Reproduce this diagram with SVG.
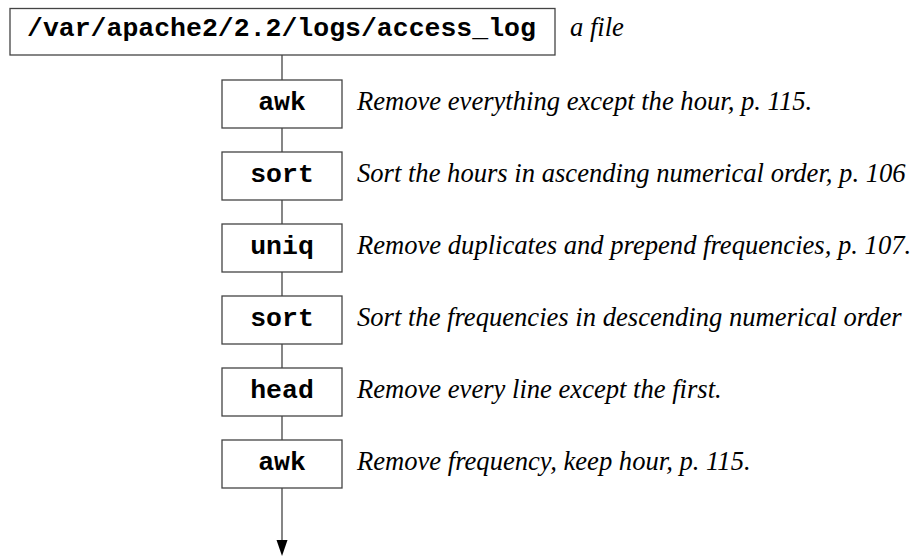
<svg xmlns="http://www.w3.org/2000/svg" width="924" height="559" viewBox="0 0 924 559">
  <style>
    .box { fill: #fff; stroke: #444; stroke-width: 1.3; }
    .cmd { font-family: "Liberation Mono", "Courier New", monospace; font-weight: bold; font-size: 26.5px; fill: #000; text-anchor: middle; }
    .path { font-family: "Liberation Mono", "Courier New", monospace; font-weight: bold; font-size: 26.5px; fill: #000; }
    .note { font-family: "Liberation Serif", "Times New Roman", serif; font-style: italic; font-size: 26.6px; fill: #000; }
    .pipe { stroke: #444; stroke-width: 1.3; fill: none; }
  </style>
  <rect width="924" height="559" fill="#fff"/>

  <!-- connectors between pipeline stages -->
  <g id="connectors">
    <line class="pipe" x1="282" y1="55" x2="282" y2="80"/>
    <line class="pipe" x1="282" y1="128" x2="282" y2="152"/>
    <line class="pipe" x1="282" y1="200" x2="282" y2="224"/>
    <line class="pipe" x1="282" y1="272" x2="282" y2="296"/>
    <line class="pipe" x1="282" y1="344" x2="282" y2="368"/>
    <line class="pipe" x1="282" y1="416" x2="282" y2="440"/>
    <line class="pipe" x1="282" y1="488" x2="282" y2="540"/>
    <path d="M276.5,540 L287.5,540 L282,556 Z" fill="#000"/>
  </g>

  <g id="input-file">
    <rect class="box" x="10" y="8.5" width="545" height="46.5"/>
    <text class="path" x="27" y="36">/var/apache2/2.2/logs/access_log</text>
    <text class="note" x="570" y="36">a file</text>
  </g>

  <g id="stage-awk1">
    <rect class="box" x="222" y="80" width="120" height="48"/>
    <text class="cmd" x="282" y="109.5">awk</text>
    <text class="note" x="357" y="109.5">Remove everything except the hour, p. 115.</text>
  </g>

  <g id="stage-sort1">
    <rect class="box" x="222" y="152" width="120" height="48"/>
    <text class="cmd" x="282" y="181.5">sort</text>
    <text class="note" x="357" y="181.5">Sort the hours in ascending numerical order, p. 106</text>
  </g>

  <g id="stage-uniq">
    <rect class="box" x="222" y="224" width="120" height="48"/>
    <text class="cmd" x="282" y="253.5">uniq</text>
    <text class="note" x="357" y="253.5">Remove duplicates and prepend frequencies, p. 107.</text>
  </g>

  <g id="stage-sort2">
    <rect class="box" x="222" y="296" width="120" height="48"/>
    <text class="cmd" x="282" y="325.5">sort</text>
    <text class="note" x="357" y="325.5">Sort the frequencies in descending numerical order</text>
  </g>

  <g id="stage-head">
    <rect class="box" x="222" y="368" width="120" height="48"/>
    <text class="cmd" x="282" y="397.5">head</text>
    <text class="note" x="357" y="397.5">Remove every line except the first.</text>
  </g>

  <g id="stage-awk2">
    <rect class="box" x="222" y="440" width="120" height="48"/>
    <text class="cmd" x="282" y="469.5">awk</text>
    <text class="note" x="357" y="469.5">Remove frequency, keep hour, p. 115.</text>
  </g>
</svg>
